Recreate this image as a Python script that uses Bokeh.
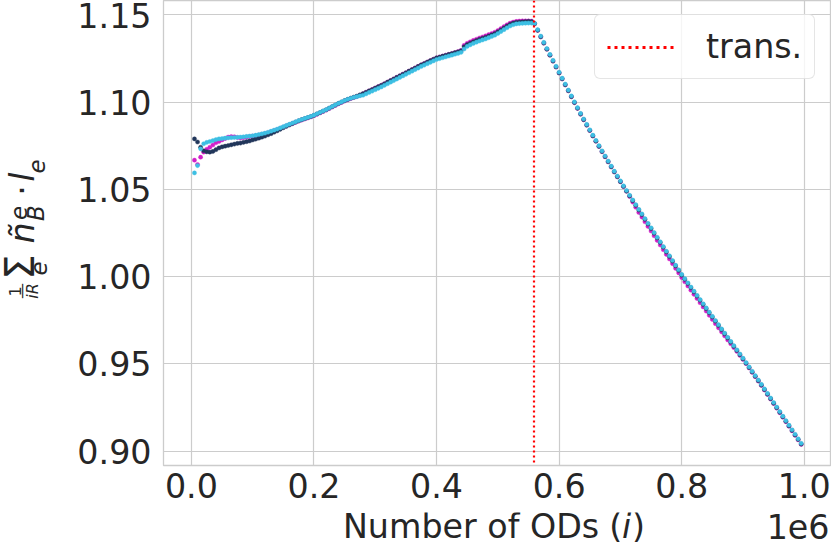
import math
from bokeh.plotting import figure
from bokeh.layouts import row, column
from bokeh.models import Range1d, FixedTicker, NumeralTickFormatter, Span, Legend, LegendItem
from bokeh.core.properties import value
from bokeh.embed import file_html
from bokeh.resources import INLINE

# ---------------- data ----------------
ods = list(range(5000, 1000000, 5000))   # sampling grid: number of ODs

series_navy = [
    1.0790, 1.0772, 1.0742, 1.0722, 1.0716, 1.0714, 1.0718, 1.0728, 1.0738, 1.0744,
    1.0748, 1.0752, 1.0756, 1.0760, 1.0764, 1.0766, 1.0770, 1.0774, 1.0778, 1.0784,
    1.0789, 1.0794, 1.0800, 1.0806, 1.0813, 1.0820, 1.0828, 1.0836, 1.0845, 1.0854,
    1.0862, 1.0870, 1.0878, 1.0886, 1.0893, 1.0900, 1.0906, 1.0912, 1.0918, 1.0925,
    1.0933, 1.0941, 1.0949, 1.0957, 1.0966, 1.0975, 1.0984, 1.0993, 1.1001, 1.1009,
    1.1016, 1.1023, 1.1029, 1.1035, 1.1042, 1.1049, 1.1057, 1.1065, 1.1073, 1.1081,
    1.1089, 1.1097, 1.1106, 1.1115, 1.1124, 1.1133, 1.1142, 1.1151, 1.1160, 1.1169,
    1.1178, 1.1187, 1.1196, 1.1205, 1.1214, 1.1222, 1.1230, 1.1238, 1.1246, 1.1254,
    1.1259, 1.1264, 1.1269, 1.1274, 1.1279, 1.1284, 1.1289, 1.1295, 1.1318, 1.1330,
    1.1338, 1.1346, 1.1353, 1.1360, 1.1366, 1.1372, 1.1379, 1.1386, 1.1393, 1.1403,
    1.1414, 1.1425, 1.1436, 1.1446, 1.1453, 1.1458, 1.1460, 1.1461, 1.1462, 1.1463,
    1.1462, 1.1450, 1.1412, 1.1375, 1.1339, 1.1304, 1.1270, 1.1236, 1.1202, 1.1168,
    1.1134, 1.1100, 1.1066, 1.1032, 1.0998, 1.0965, 1.0932, 1.0900, 1.0869, 1.0838,
    1.0807, 1.0777, 1.0747, 1.0717, 1.0688, 1.0659, 1.0630, 1.0601, 1.0573, 1.0545,
    1.0517, 1.0490, 1.0463, 1.0436, 1.0409, 1.0382, 1.0356, 1.0329, 1.0302, 1.0276,
    1.0249, 1.0222, 1.0196, 1.0169, 1.0142, 1.0116, 1.0089, 1.0062, 1.0036, 1.0009,
    0.9985, 0.9961, 0.9937, 0.9913, 0.9889, 0.9865, 0.9841, 0.9817, 0.9793, 0.9769,
    0.9745, 0.9721, 0.9697, 0.9673, 0.9649, 0.9625, 0.9601, 0.9577, 0.9553, 0.9529,
    0.9504, 0.9479, 0.9454, 0.9429, 0.9404, 0.9379, 0.9353, 0.9327, 0.9301, 0.9275,
    0.9249, 0.9223, 0.9197, 0.9171, 0.9145, 0.9119, 0.9093, 0.9067, 0.9041,
]

series_cyan = [
    1.0595, 1.0637, 1.0733, 1.0762, 1.0770, 1.0775, 1.0780, 1.0786, 1.0790, 1.0792,
    1.0794, 1.0796, 1.0797, 1.0798, 1.0799, 1.0800, 1.0802, 1.0804, 1.0806, 1.0808,
    1.0811, 1.0815, 1.0819, 1.0823, 1.0828, 1.0834, 1.0840, 1.0846, 1.0853, 1.0860,
    1.0867, 1.0874, 1.0881, 1.0888, 1.0895, 1.0901, 1.0907, 1.0913, 1.0919, 1.0926,
    1.0934, 1.0942, 1.0950, 1.0958, 1.0967, 1.0976, 1.0985, 1.0994, 1.1002, 1.1010,
    1.1017, 1.1023, 1.1028, 1.1032, 1.1037, 1.1040, 1.1048, 1.1056, 1.1064, 1.1072,
    1.1080, 1.1088, 1.1097, 1.1106, 1.1115, 1.1124, 1.1133, 1.1142, 1.1151, 1.1160,
    1.1169, 1.1178, 1.1187, 1.1196, 1.1205, 1.1213, 1.1221, 1.1229, 1.1237, 1.1245,
    1.1250, 1.1255, 1.1260, 1.1265, 1.1270, 1.1275, 1.1280, 1.1286, 1.1305, 1.1320,
    1.1329, 1.1337, 1.1344, 1.1351, 1.1357, 1.1363, 1.1370, 1.1377, 1.1384, 1.1394,
    1.1405, 1.1416, 1.1427, 1.1437, 1.1444, 1.1449, 1.1451, 1.1452, 1.1453, 1.1454,
    1.1454, 1.1452, 1.1416, 1.1379, 1.1343, 1.1308, 1.1274, 1.1240, 1.1206, 1.1172,
    1.1138, 1.1104, 1.1070, 1.1036, 1.1002, 1.0969, 1.0936, 1.0904, 1.0873, 1.0842,
    1.0811, 1.0781, 1.0751, 1.0721, 1.0692, 1.0663, 1.0634, 1.0605, 1.0577, 1.0549,
    1.0521, 1.0494, 1.0467, 1.0440, 1.0413, 1.0386, 1.0360, 1.0333, 1.0306, 1.0280,
    1.0253, 1.0226, 1.0200, 1.0173, 1.0146, 1.0120, 1.0093, 1.0066, 1.0040, 1.0013,
    0.9989, 0.9965, 0.9941, 0.9917, 0.9893, 0.9869, 0.9845, 0.9821, 0.9797, 0.9773,
    0.9749, 0.9725, 0.9701, 0.9677, 0.9653, 0.9629, 0.9605, 0.9581, 0.9557, 0.9533,
    0.9508, 0.9483, 0.9458, 0.9433, 0.9408, 0.9383, 0.9357, 0.9331, 0.9305, 0.9279,
    0.9253, 0.9227, 0.9201, 0.9175, 0.9149, 0.9123, 0.9097, 0.9071, 0.9045,
]

series_magenta = [
    1.0668, 1.0643, 1.0685, 1.0714, 1.0730, 1.0742, 1.0755, 1.0768, 1.0775, 1.0784,
    1.0792, 1.0800, 1.0803, 1.0802, 1.0798, 1.0795, 1.0797, 1.0800, 1.0803, 1.0806,
    1.0808, 1.0812, 1.0816, 1.0820, 1.0825, 1.0831, 1.0837, 1.0843, 1.0850, 1.0857,
    1.0864, 1.0871, 1.0878, 1.0885, 1.0892, 1.0898, 1.0904, 1.0910, 1.0916, 1.0923,
    1.0931, 1.0939, 1.0947, 1.0955, 1.0964, 1.0973, 1.0982, 1.0991, 1.0999, 1.1007,
    1.1014, 1.1021, 1.1027, 1.1033, 1.1040, 1.1048, 1.1057, 1.1065, 1.1073, 1.1081,
    1.1089, 1.1097, 1.1106, 1.1115, 1.1124, 1.1133, 1.1142, 1.1151, 1.1160, 1.1169,
    1.1178, 1.1187, 1.1196, 1.1205, 1.1214, 1.1222, 1.1230, 1.1238, 1.1246, 1.1254,
    1.1259, 1.1264, 1.1269, 1.1274, 1.1279, 1.1284, 1.1290, 1.1297, 1.1326, 1.1338,
    1.1346, 1.1354, 1.1361, 1.1368, 1.1374, 1.1380, 1.1387, 1.1394, 1.1401, 1.1411,
    1.1422, 1.1433, 1.1444, 1.1453, 1.1459, 1.1463, 1.1465, 1.1466, 1.1466, 1.1466,
    1.1465, 1.1450, 1.1412, 1.1375, 1.1339, 1.1304, 1.1270, 1.1236, 1.1202, 1.1168,
    1.1134, 1.1100, 1.1066, 1.1032, 1.0998, 1.0965, 1.0932, 1.0900, 1.0869, 1.0838,
    1.0807, 1.0777, 1.0747, 1.0717, 1.0688, 1.0659, 1.0630, 1.0601, 1.0573, 1.0545,
    1.0517, 1.0490, 1.0460, 1.0428, 1.0398, 1.0368, 1.0342, 1.0315, 1.0288, 1.0262,
    1.0235, 1.0208, 1.0182, 1.0155, 1.0128, 1.0102, 1.0075, 1.0048, 1.0022, 0.9995,
    0.9971, 0.9947, 0.9923, 0.9899, 0.9875, 0.9851, 0.9827, 0.9803, 0.9779, 0.9755,
    0.9731, 0.9707, 0.9684, 0.9661, 0.9638, 0.9616, 0.9594, 0.9572, 0.9549, 0.9526,
    0.9502, 0.9477, 0.9452, 0.9427, 0.9402, 0.9377, 0.9351, 0.9325, 0.9299, 0.9273,
    0.9247, 0.9221, 0.9195, 0.9169, 0.9143, 0.9117, 0.9091, 0.9065, 0.9039,
]

transition_x = 559000
legend_labels = ["trans."]

x_ticks = [0, 200000, 400000, 600000, 800000, 1000000]
x_tick_labels = ["0.0", "0.2", "0.4", "0.6", "0.8", "1.0"]
y_ticks = [0.90, 0.95, 1.00, 1.05, 1.10, 1.15]

colors = {"navy": "#21365a", "magenta": "#d21ec8", "cyan": "#3dbfe3"}

# ---------------- layout constants (page pixels) ----------------
PAGE_W, PAGE_H = 831, 551
A_W = 74                      # left strip holding the y title
MAIN_W = PAGE_W - A_W
MAIN_H = 512                  # main figure height; strip for x title below
FRAME_L, FRAME_R, FRAME_B = 161, 830, 465
BL = FRAME_L - A_W
BR = PAGE_W - FRAME_R
BB = MAIN_H - FRAME_B
X0, X1 = -45551, 1042789
Y0, Y1 = 0.891804, 1.158310
FONT = "DejaVu Sans"
TXT = "#262626"
GRID = "#cccccc"
BASE_SHIFT = 0.37             # empirical offset of the rendered baseline, in em

p = figure(width=MAIN_W, height=MAIN_H, output_backend="svg", toolbar_location=None,
           x_range=Range1d(X0, X1), y_range=Range1d(Y0, Y1),
           min_border_left=BL, min_border_right=BR, min_border_top=0, min_border_bottom=BB)
p.background_fill_color = "white"
p.border_fill_color = "white"
p.outline_line_color = GRID
p.outline_line_width = 1.3

for ax in (p.xaxis[0], p.yaxis[0]):
    ax.axis_line_color = None
    ax.major_tick_line_color = None
    ax.minor_tick_line_color = None
    ax.major_tick_out = 0
    ax.major_tick_in = 0
    ax.major_label_text_font = FONT
    ax.major_label_text_font_size = "33.3px"
    ax.major_label_text_color = TXT
    ax.axis_label = None

p.xaxis.ticker = FixedTicker(ticks=x_ticks)
p.xaxis.major_label_overrides = {t: s for t, s in zip(x_ticks, x_tick_labels)}
p.xaxis.major_label_standoff = 7
p.yaxis.ticker = FixedTicker(ticks=y_ticks)
p.yaxis.formatter = NumeralTickFormatter(format="0.00")
p.yaxis.major_label_standoff = 12

p.xgrid.grid_line_color = GRID
p.ygrid.grid_line_color = GRID
p.xgrid.grid_line_width = 1.2
p.ygrid.grid_line_width = 1.2

for name, ys in (("magenta", series_magenta), ("navy", series_navy), ("cyan", series_cyan)):
    p.scatter(x=ods, y=ys, size=4.2, fill_color=colors[name], line_color=colors[name], line_width=0.4)

p.add_layout(Span(location=transition_x, dimension="height", line_color="red",
                  line_dash="2 3", line_width=2.2))
legend_stub = p.line(x=[transition_x], y=[y_ticks[0]], line_color="red", line_dash="3 4", line_width=3)
legend = Legend(items=[LegendItem(label=legend_labels[0], renderers=[legend_stub])],
                location=(431, 386), margin=0, padding=12,
                glyph_width=68, label_standoff=31,
                label_text_font=FONT, label_text_font_size="33.3px", label_text_color=TXT,
                border_line_color="#cccccc", border_line_width=1.5,
                background_fill_color="white", background_fill_alpha=0.8)
try:
    legend.border_radius = 6
except Exception:
    pass
p.add_layout(legend)


# ---------------- text strips for the axis titles ----------------
def text_strip(w, h, xr, yr):
    f = figure(width=w, height=h, output_backend="svg", toolbar_location=None,
               x_range=xr, y_range=yr,
               x_axis_location=None, y_axis_location=None, min_border=0)
    f.outline_line_color = None
    f.background_fill_color = "white"
    f.border_fill_color = "white"
    f.xgrid.visible = False
    f.ygrid.visible = False
    return f


ya = text_strip(A_W, PAGE_H, Range1d(0, A_W), Range1d(PAGE_H, 0))
xb = text_strip(MAIN_W, PAGE_H - MAIN_H, Range1d(FRAME_L, FRAME_R), Range1d(PAGE_H, MAIN_H))


def piece(f, text, size, px, py, style="normal", rotated=False, align="left"):
    # (px, py): wanted baseline point in page pixels
    shift = BASE_SHIFT * size
    if rotated:
        x, y, ang = px - shift, py, math.pi / 2
    else:
        x, y, ang = px, py - shift, 0.0
    f.text(x=[x], y=[y], text=[text], angle=ang,
           text_font=value(FONT), text_font_size=value(f"{size}px"),
           text_font_style=value(style), text_color=TXT,
           text_align=value(align), text_baseline=value("alphabetic"))


# x axis title: Number of ODs (i)   and offset text 1e6
TB = 538.5
piece(xb, "Number of ODs", 33.3, 341, TB)
piece(xb, "(", 33.3, 608, TB)
piece(xb, "i", 33.3, 621, TB, style="italic")
piece(xb, ")", 33.3, 631, TB)
piece(xb, "1e6", 33.3, 829, TB, align="right")

# y axis title: 1/(iR) sum_e ñ_B^e · l_e (rotated, reading upwards)
piece(ya, "1", 16, 20.5, 291, rotated=True, align="center")
piece(ya, "\u2014", 16, 27, 290.5, rotated=True, align="center")
piece(ya, "iR", 16, 37.5, 290.5, style="italic", rotated=True, align="center")
piece(ya, "\u03a3", 40, 34, 266.5, rotated=True, align="center")
piece(ya, "e", 23, 47, 268, style="italic", rotated=True, align="center")
piece(ya, "\u00f1", 33.3, 34, 232.5, style="italic", rotated=True, align="center")
piece(ya, "e", 23, 27, 212.5, style="italic", rotated=True, align="center")
piece(ya, "B", 23, 44, 212.5, style="italic", rotated=True, align="center")
piece(ya, "\u00b7", 33.3, 34, 190, rotated=True, align="center")
piece(ya, "l", 33.3, 34, 176.5, style="italic", rotated=True, align="center")
piece(ya, "e", 23, 45, 166, style="italic", rotated=True, align="center")

layout = row(ya, column(p, xb, spacing=0), spacing=0)
open("out.html", "w").write(file_html(layout, INLINE))
